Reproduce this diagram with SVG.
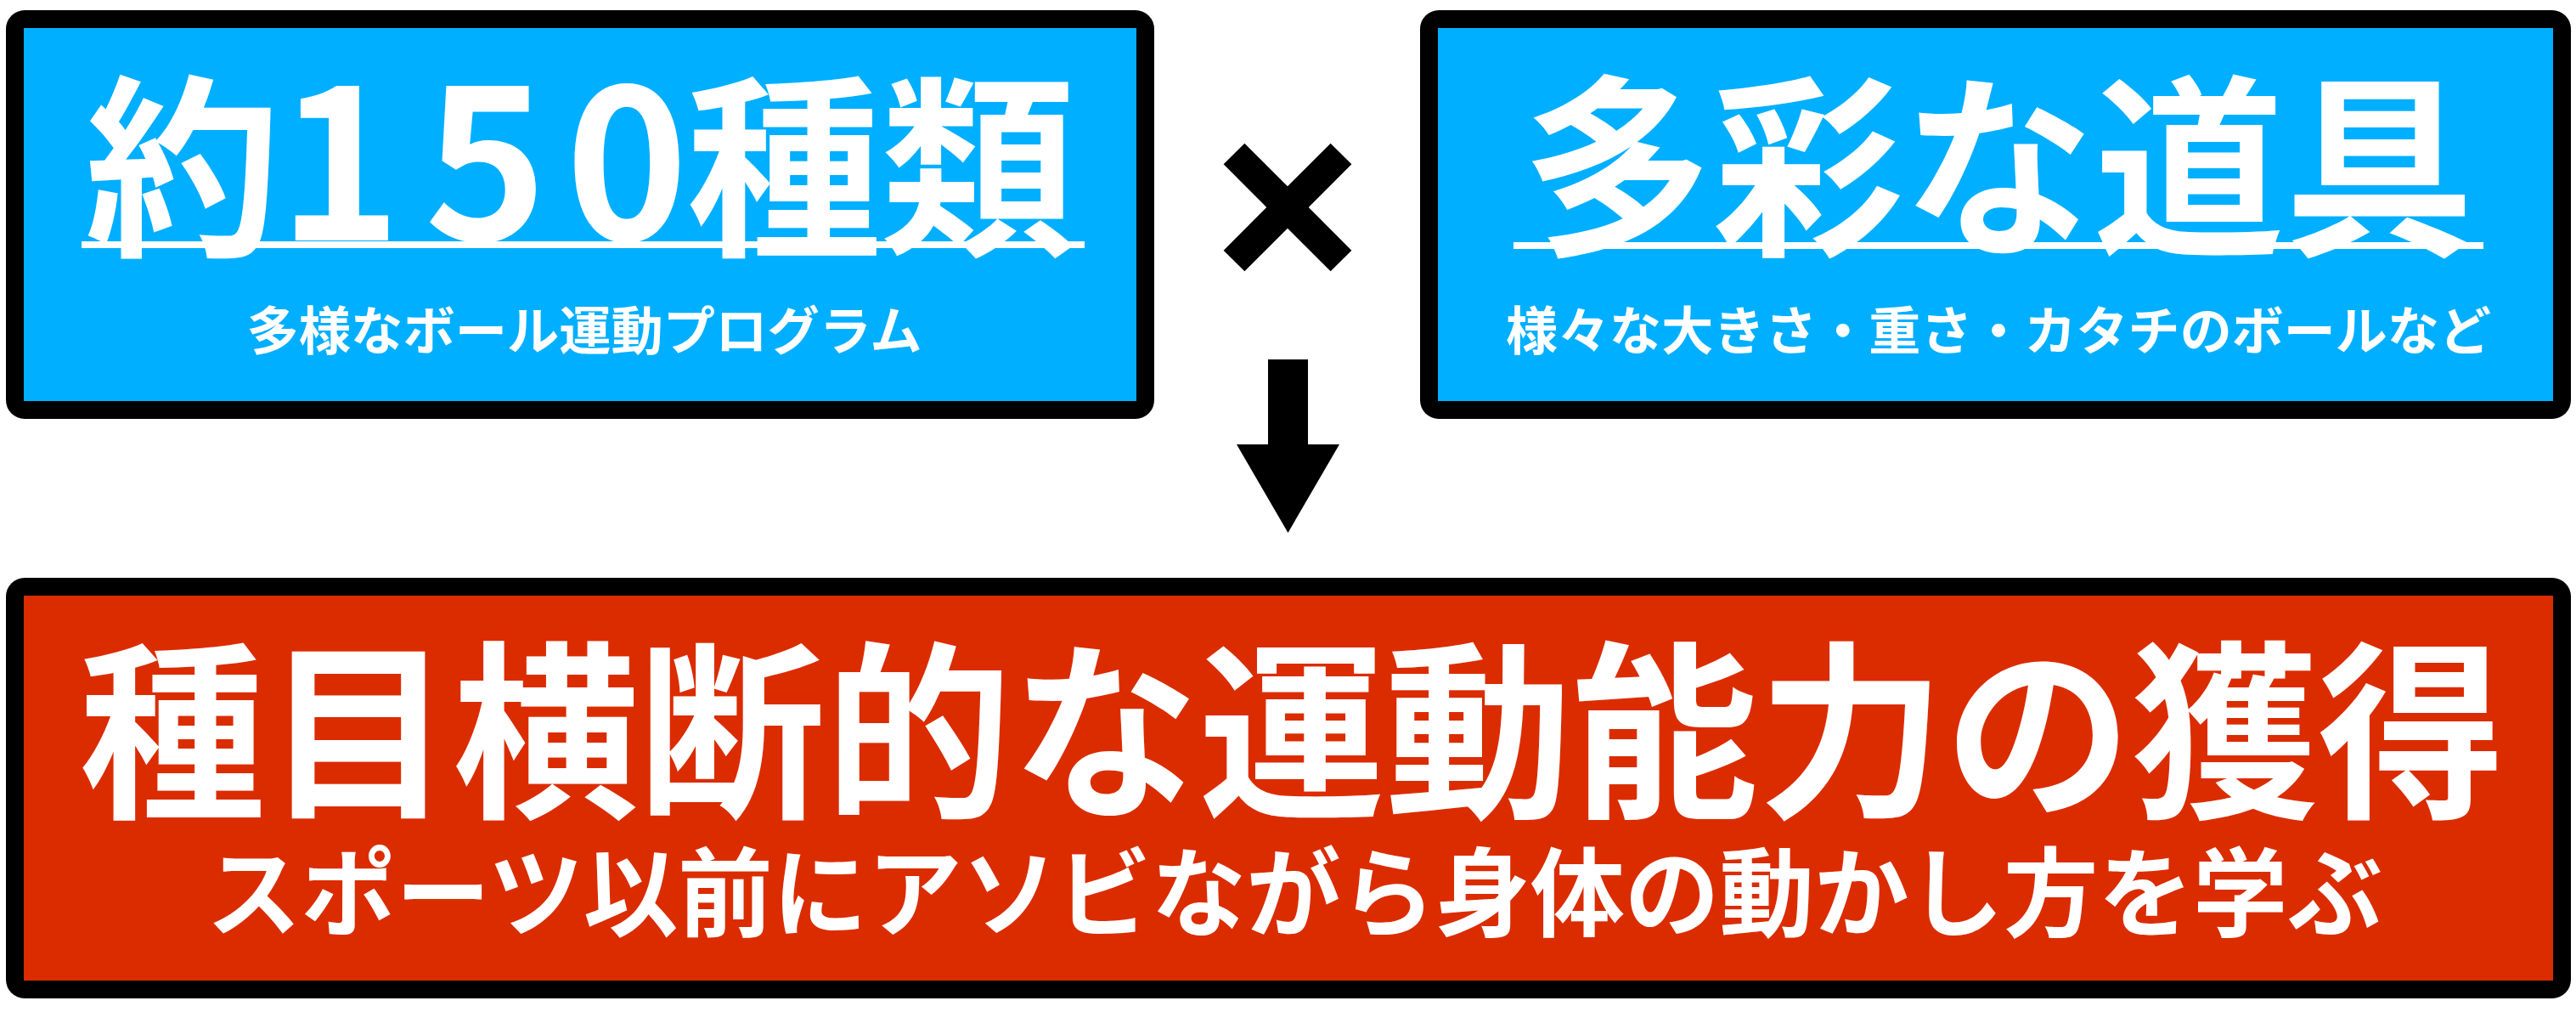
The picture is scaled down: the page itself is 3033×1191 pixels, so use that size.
<svg xmlns="http://www.w3.org/2000/svg" width="3033" height="1191" viewBox="0 0 3033 1191">
  <style>
    .frame { fill: #000000; }
    .blue { fill: #00AFFF; }
    .red { fill: #DB2C00; }
    .t { font-family: "Noto Sans CJK JP", "Noto Sans", sans-serif; font-weight: 700; fill: #FFFFFF; text-anchor: middle; }
    .uline { fill: #FFFFFF; }
  </style>
  <rect x="0" y="0" width="3033" height="1191" fill="#FFFFFF"/>

  <g id="node-variety">
    <rect class="frame" x="7" y="12" width="1352" height="481" rx="22" ry="22"/>
    <rect class="blue" x="28" y="33" width="1310" height="439"/>
    <rect class="uline" x="96" y="284" width="1181" height="8"/>
    <text class="t" y="283" font-size="230"><tspan x="215">約</tspan><tspan x="400" font-size="245">1</tspan><tspan x="572" font-size="245">5</tspan><tspan x="738" font-size="245">0</tspan><tspan x="923">種</tspan><tspan x="1152">類</tspan></text>
    <text class="t" x="688" y="412" font-size="61" textLength="795" lengthAdjust="spacingAndGlyphs">多様なボール運動プログラム</text>
  </g>

  <g id="node-tools">
    <rect class="frame" x="1672" y="12" width="1355" height="481" rx="22" ry="22"/>
    <rect class="blue" x="1693" y="33" width="1313" height="439"/>
    <rect class="uline" x="1782" y="285" width="1142" height="8"/>
    <text class="t" x="2353" y="283" font-size="230" textLength="1122" lengthAdjust="spacingAndGlyphs">多彩な道具</text>
    <text class="t" x="2353" y="412" font-size="61" textLength="1160" lengthAdjust="spacingAndGlyphs">様々な大きさ・重さ・カタチのボールなど</text>
  </g>

  <g id="node-result">
    <rect class="frame" x="7" y="680" width="3020" height="495" rx="22" ry="22"/>
    <rect class="red" x="28" y="701" width="2978" height="453"/>
    <text class="t" x="1521" y="945" font-size="224" textLength="2856" lengthAdjust="spacingAndGlyphs">種目横断的な運動能力の獲得</text>
    <text class="t" x="1524" y="1093" font-size="114" textLength="2562" lengthAdjust="spacingAndGlyphs">スポーツ以前にアソビながら身体の動かし方を学ぶ</text>
  </g>

  <g id="times-sign">
    <line x1="1453" y1="181" x2="1579" y2="307" stroke="#000000" stroke-width="35"/>
    <line x1="1579" y1="181" x2="1453" y2="307" stroke="#000000" stroke-width="35"/>
  </g>

  <g id="connectors">
    <path d="M1493,423 H1540 V523 H1577 L1516.5,627 L1456,523 H1493 Z" fill="#000000"/>
  </g>
</svg>
